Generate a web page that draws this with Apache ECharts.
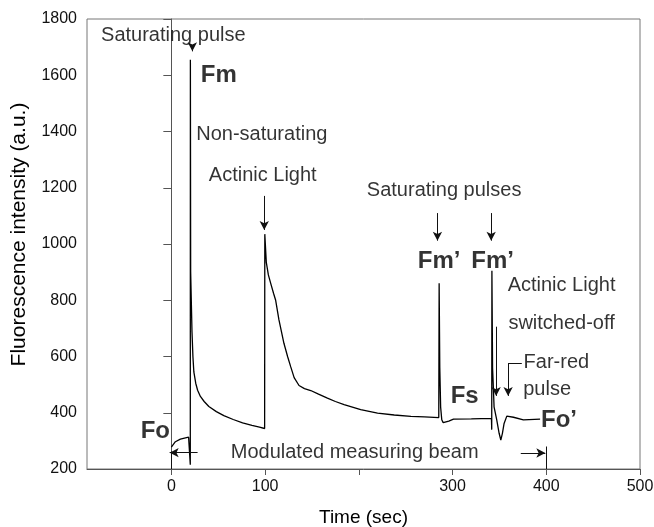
<!DOCTYPE html>
<html>
<head>
<meta charset="utf-8">
<script src="https://cdn.jsdelivr.net/npm/echarts@6/dist/echarts.min.js"></script>
<style>
  html, body { margin: 0; padding: 0; background: #fff; }
  #main { width: 654px; height: 527px; }
</style>
</head>
<body>
<div id="main"></div>
<script>
// fluorescence trace, time (sec) and signal (a.u.)
var timeSec = [0, 4.3, 9.6, 14, 18.4, 20.1, 20.2, 20.3, 20.6, 21, 22, 23, 24, 26, 28, 31, 35, 40, 48, 56, 66, 76, 86, 94, 99.5,
  99.7, 100.3, 101.3, 103.5, 106, 109, 111.2, 114.8, 120.1, 124, 127.3, 131, 136.2, 142, 148.7, 157, 166.5, 175, 184.3, 202,
  220, 237.8, 255.6, 270, 285.3, 285.7, 286.4, 287.3, 288.5, 290, 292, 296, 301, 320, 341.5, 341.8, 342, 342.7, 343.3, 344.3,
  347.2, 349.7, 351.5, 353.2, 355, 357.9, 365, 375.6, 393.4];
var signal = [278, 297, 306, 310, 313, 313, 215, 1655, 900, 895, 690, 600, 545, 505, 480, 458, 440, 422, 404, 390, 376, 364, 355, 349, 344,
  1035, 1030, 935, 890, 860, 825, 801, 730, 647, 600, 564, 525, 497, 486, 479, 466, 452, 440, 429, 411,
  399, 392, 387, 385, 383, 860, 560, 420, 375, 365, 362, 370, 377, 378, 380, 340, 905, 560, 510, 421,
  374, 327, 303, 327, 362, 388, 384, 375, 377];

var xTicks = [0, 100, 200, 300, 400, 500];
var xLabels = [0, 100, 300, 400, 500];

// annotation texts: [text, time, signal, bold]
var notes = [
  ['Saturating pulse', 2.1, 1743, false],
  ['Fm', 50.6, 1601, true],
  ['Non-saturating', 96.5, 1388, false],
  ['Actinic Light', 97.5, 1245, false],
  ['Saturating pulses', 291, 1192, false],
  ['Fm\u2019', 285.7, 937, true],
  ['Fm\u2019', 342.8, 937, true],
  ['Actinic Light', 416.3, 851, false],
  ['switched-off', 416.3, 716, false],
  ['Far-red', 410.8, 577, false],
  ['pulse', 400.9, 484, false],
  ['Fs', 312.9, 457, true],
  ['Fo\u2019', 413.6, 374, true],
  ['Fo', -17.1, 333, true],
  ['Modulated measuring beam', 195.6, 258, false]
];

// arrows and bars: [x1, y1, x2, y2, arrowhead at end]
var arrows = [
  [22.4, 1703, 22.4, 1685, true],
  [99.1, 1171, 99.1, 1050, true],
  [283.9, 1110, 283.9, 1012, true],
  [341.2, 1110, 341.2, 1012, true],
  [346.5, 706, 346.5, 460, true],
  [373.9, 576, 359.3, 576, false],
  [359.3, 576, 359.3, 460, true],
  [28, 258, -1.8, 258, true],
  [0, 200, 0, 262, false],
  [372.8, 257, 399, 257, true],
  [400, 200, 400, 280, false]
];

var font = 'Liberation Sans, Arial, sans-serif';

var tracePts = [];
for (var i = 0; i < timeSec.length; i++) {
  tracePts.push([timeSec[i], signal[i]]);
}

var notePts = notes.map(function (n) {
  return {
    value: [n[1], n[2]],
    label: {
      formatter: n[0],
      fontWeight: n[3] ? 'bold' : 'normal',
      fontSize: n[3] ? 24 : 20
    }
  };
});

var arrowLines = arrows.map(function (a) {
  return [
    { coord: [a[0], a[1]], symbol: 'none' },
    { coord: [a[2], a[3]], symbol: a[4] ? 'arrow' : 'none', symbolSize: [7, 9] }
  ];
});

var myChart = echarts.init(document.getElementById('main'));
var option = {
  animation: false,
  textStyle: { fontFamily: font },
  grid: {
    left: 87, right: 14, top: 19, bottom: 58,
    containLabel: false,
    outerBoundsMode: 'none',
    show: true, borderColor: '#777', borderWidth: 1
  },
  xAxis: {
    type: 'value',
    min: -90,
    max: 500,
    name: 'Time (sec)',
    nameLocation: 'middle',
    nameGap: 39,
    nameTextStyle: { fontSize: 19, color: '#000', fontFamily: font },
    axisLine: { lineStyle: { color: '#555', width: 1 } },
    axisTick: { show: true, length: 6, customValues: xTicks, lineStyle: { color: '#555' } },
    axisLabel: { customValues: xLabels, fontSize: 16, color: '#111', margin: 10, fontFamily: font },
    splitLine: { show: false }
  },
  yAxis: {
    type: 'value',
    min: 200,
    max: 1800,
    interval: 200,
    name: 'Fluorescence intensity (a.u.)',
    nameLocation: 'middle',
    nameGap: 57,
    nameTextStyle: { fontSize: 21, color: '#000', fontFamily: font, padding: [0, 0, 0, 19] },
    axisLine: { show: true, lineStyle: { color: '#555', width: 1 } },
    axisTick: { show: true, length: 8, lineStyle: { color: '#555' } },
    axisLabel: {
      fontSize: 16, color: '#111', margin: 10, fontFamily: font,
      formatter: function (v) { return String(v); }
    },
    splitLine: { show: false }
  },
  series: [
    {
      name: 'trace',
      type: 'line',
      data: tracePts,
      showSymbol: false,
      symbol: 'none',
      lineStyle: { color: '#000', width: 1.3 },
      silent: true,
      markLine: {
        silent: true,
        animation: false,
        label: { show: false },
        lineStyle: { type: 'solid', color: '#111', width: 1 },
        emphasis: { disabled: true },
        data: arrowLines
      }
    },
    {
      name: 'notes',
      type: 'scatter',
      data: notePts,
      symbolSize: 1,
      itemStyle: { color: 'rgba(0,0,0,0)' },
      silent: true,
      label: {
        show: true,
        position: 'inside',
        color: '#000',
        fontFamily: font,
        verticalAlign: 'middle'
      }
    }
  ]
};
myChart.setOption(option);
</script>
</body>
</html>
